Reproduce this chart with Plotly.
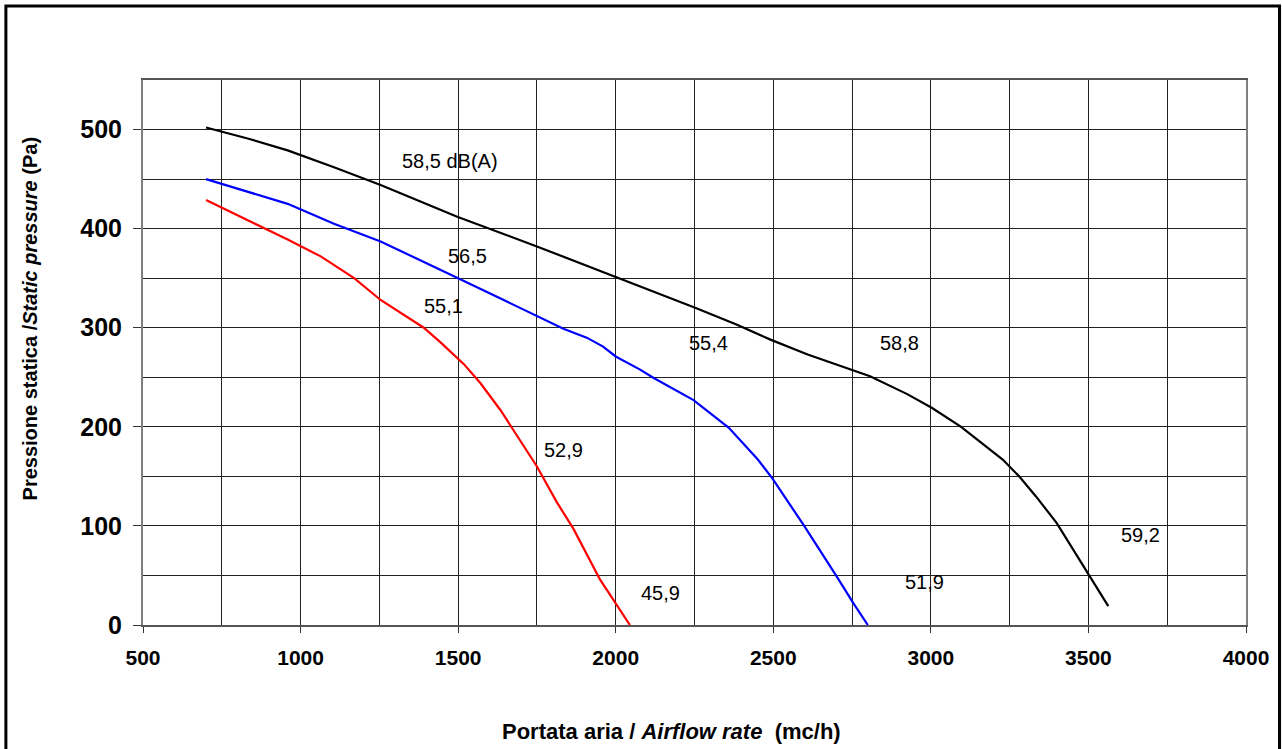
import plotly.graph_objects as go

# ---- data ----
black_x = [700, 832, 959, 1106, 1254, 1497, 1750, 1993, 2077, 2254, 2385, 2491, 2609, 2754, 2807,
           2925, 3004, 3096, 3135, 3228, 3280, 3333, 3399, 3451, 3504, 3563]
black_y = [502, 491, 479, 462, 444, 412, 382, 352, 342, 320, 303, 288, 273, 257, 251,
           233, 219, 200, 190, 167, 150, 130, 103, 76, 49, 19]

blue_x = [700, 811, 959, 1106, 1254, 1500, 1750, 1834, 1908, 1960, 2000, 2076, 2122, 2247,
          2359, 2451, 2497, 2596, 2701, 2754, 2800]
blue_y = [450, 439, 425, 405, 387, 350, 312, 299, 290, 281, 271, 258, 249, 227,
          199, 167, 148, 101, 49, 22, 0]

red_x = [700, 811, 959, 1064, 1170, 1254, 1391, 1445, 1519, 1571, 1634, 1687, 1750, 1813,
         1866, 1950, 1997, 2045]
red_y = [429, 412, 389, 372, 350, 328, 300, 285, 263, 244, 217, 191, 160, 124,
         97, 46, 23, 0]

label_text = ["58,5 dB(A)", "56,5", "55,1", "55,4", "58,8", "52,9", "59,2", "51,9", "45,9"]
label_x = [1475, 1530, 1454, 2293, 2901, 1833, 3664, 2980, 2142]
label_y = [468, 372, 322, 285, 285, 177, 91, 43, 32]

x_ticks = [500, 1000, 1500, 2000, 2500, 3000, 3500, 4000]
y_ticks = [0, 100, 200, 300, 400, 500]

x_title = "<b>Portata aria / <i>Airflow rate</i>  (mc/h)</b>"
y_title = "<b>Pressione statica /<i>Static pressure</i> (Pa)</b>"

FONT = "Liberation Sans, Arial, sans-serif"

fig = go.Figure()
for xs, ys, col in [(black_x, black_y, "#000000"), (blue_x, blue_y, "#0000FF"), (red_x, red_y, "#FF0000")]:
    fig.add_trace(go.Scatter(x=xs, y=ys, mode="lines", line=dict(color=col, width=2.2),
                             showlegend=False, hoverinfo="skip"))

for t, lx, ly in zip(label_text, label_x, label_y):
    fig.add_annotation(x=lx, y=ly, xref="x", yref="y", text=t, showarrow=False,
                       font=dict(family=FONT, size=20, color="#000000"),
                       xanchor="center", yanchor="middle")

fig.add_annotation(x=0.479, y=-0.1945, xref="paper", yref="paper", text=x_title, showarrow=False,
                   font=dict(family=FONT, size=22, color="#000000"), xanchor="center", yanchor="middle")
fig.add_annotation(x=-0.1016, y=0.5624, xref="paper", yref="paper", text=y_title, showarrow=False,
                   textangle=-90, font=dict(family=FONT, size=20, color="#000000"),
                   xanchor="center", yanchor="middle")

# outer frame
fig.add_shape(type="rect", xref="paper", yref="paper", x0=-0.1243, x1=1.0304, y0=-0.235, y1=1.1358,
              line=dict(color="#000000", width=3), fillcolor="rgba(0,0,0,0)")

grid_col = "#222222"
fig.update_xaxes(range=[500, 4000], tickvals=x_ticks, ticktext=[str(v) for v in x_ticks],
                 showgrid=True, gridcolor=grid_col, gridwidth=1,
                 minor=dict(dtick=250, tick0=500, showgrid=True, gridcolor=grid_col, gridwidth=1, ticks=""),
                 showline=True, linecolor="#555555", linewidth=2, mirror=True,
                 ticks="outside", ticklen=6, tickcolor="#333333", tickwidth=1,
                 tickfont=dict(family=FONT, size=21, color="#000000", weight="bold"),
                 ticklabelstandoff=7, zeroline=False)
fig.update_yaxes(range=[0, 550], tickvals=y_ticks, ticktext=[str(v) for v in y_ticks],
                 showgrid=True, gridcolor=grid_col, gridwidth=1,
                 minor=dict(dtick=50, tick0=0, showgrid=True, gridcolor=grid_col, gridwidth=1, ticks=""),
                 showline=True, linecolor="#808080", linewidth=2, mirror=True,
                 ticks="outside", ticklen=8, tickcolor="#333333", tickwidth=1,
                 tickfont=dict(family=FONT, size=25, color="#000000", weight="bold"),
                 ticklabelstandoff=6, zeroline=False)

fig.update_layout(width=1282, height=749, margin=dict(l=143, r=36, t=80, b=124),
                  plot_bgcolor="#FFFFFF", paper_bgcolor="#FFFFFF", showlegend=False)

fig.write_html("out.html", config={"displayModeBar": False},
               post_script="document.body.style.margin='0';document.body.style.overflow='hidden';")
